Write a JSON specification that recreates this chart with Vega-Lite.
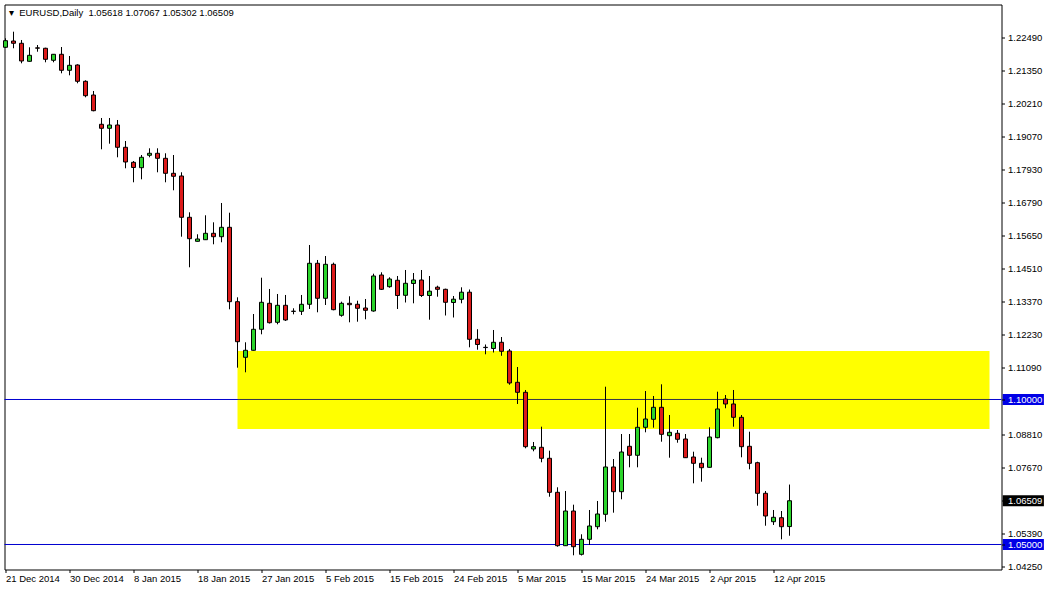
{
  "$schema": "https://vega.github.io/schema/vega-lite/v6.json",
  "width": 997,
  "height": 565,
  "autosize": {"type": "none"},
  "padding": {"left": 4.5, "top": 4.5, "right": 44.5, "bottom": 19.5},
  "background": "white",
  "config": {"view": {"stroke": "black", "strokeWidth": 1}, "font": "Liberation Sans"},
  "resolve": {"axis": {"x": "independent", "y": "independent"}},
  "datasets": {
    "zone": [{"x1": 29, "x2": 123, "top": 1.1167, "bottom": 1.0898}],
    "levels": [{"p": 1.1}, {"p": 1.05}],
    "tags": [{"p": 1.1}, {"p": 1.05}, {"p": 1.06509}],
    "header": [{"text": "▾\u00a0\u00a0EURUSD,Daily\u00a0\u00a01.05618 1.07067 1.05302 1.06509"}],
    "candles": [
      {"i":0,"o":1.22145,"h":1.22455,"l":1.22121,"c":1.22373},
      {"i":1,"o":1.22362,"h":1.22683,"l":1.22111,"c":1.22283},
      {"i":2,"o":1.22283,"h":1.22397,"l":1.21593,"c":1.21673},
      {"i":3,"o":1.21662,"h":1.22145,"l":1.21650,"c":1.21869},
      {"i":4,"o":1.22125,"h":1.22224,"l":1.21993,"c":1.22115},
      {"i":5,"o":1.22111,"h":1.22130,"l":1.21628,"c":1.21731},
      {"i":6,"o":1.21697,"h":1.21914,"l":1.21628,"c":1.21904},
      {"i":7,"o":1.21904,"h":1.22155,"l":1.21248,"c":1.21352},
      {"i":8,"o":1.21352,"h":1.21845,"l":1.21179,"c":1.21524},
      {"i":9,"o":1.21535,"h":1.21559,"l":1.20904,"c":1.20973},
      {"i":10,"o":1.20973,"h":1.21007,"l":1.20421,"c":1.20476},
      {"i":11,"o":1.20500,"h":1.20638,"l":1.19938,"c":1.19959},
      {"i":12,"o":1.19490,"h":1.19707,"l":1.18628,"c":1.19352},
      {"i":13,"o":1.19352,"h":1.19707,"l":1.18821,"c":1.19466},
      {"i":14,"o":1.19466,"h":1.19638,"l":1.18352,"c":1.18697},
      {"i":15,"o":1.18697,"h":1.18914,"l":1.17973,"c":1.18190},
      {"i":16,"o":1.18179,"h":1.18224,"l":1.17490,"c":1.18000},
      {"i":17,"o":1.17993,"h":1.18431,"l":1.17593,"c":1.18352},
      {"i":18,"o":1.18421,"h":1.18662,"l":1.18352,"c":1.18490},
      {"i":19,"o":1.18490,"h":1.18662,"l":1.17835,"c":1.18317},
      {"i":20,"o":1.18317,"h":1.18490,"l":1.17490,"c":1.17800},
      {"i":21,"o":1.17800,"h":1.18431,"l":1.17214,"c":1.17697},
      {"i":22,"o":1.17707,"h":1.17835,"l":1.15614,"c":1.16283},
      {"i":23,"o":1.16283,"h":1.16455,"l":1.14559,"c":1.15545},
      {"i":24,"o":1.15455,"h":1.15697,"l":1.15448,"c":1.15535},
      {"i":25,"o":1.15510,"h":1.16352,"l":1.15500,"c":1.15731},
      {"i":26,"o":1.15731,"h":1.16110,"l":1.15352,"c":1.15614},
      {"i":27,"o":1.15614,"h":1.16776,"l":1.15421,"c":1.15938},
      {"i":28,"o":1.15938,"h":1.16441,"l":1.13110,"c":1.13373},
      {"i":29,"o":1.13373,"h":1.13524,"l":1.11097,"c":1.11993},
      {"i":30,"o":1.11455,"h":1.11973,"l":1.10938,"c":1.11697},
      {"i":31,"o":1.11697,"h":1.12948,"l":1.11690,"c":1.12421},
      {"i":32,"o":1.12421,"h":1.14200,"l":1.12248,"c":1.13352},
      {"i":33,"o":1.13317,"h":1.13811,"l":1.12620,"c":1.12648},
      {"i":34,"o":1.12662,"h":1.13638,"l":1.12593,"c":1.13248},
      {"i":35,"o":1.13248,"h":1.13604,"l":1.12707,"c":1.12742},
      {"i":36,"o":1.13045,"h":1.13145,"l":1.12938,"c":1.13038},
      {"i":37,"o":1.13041,"h":1.13604,"l":1.12914,"c":1.13283},
      {"i":38,"o":1.13283,"h":1.15328,"l":1.13121,"c":1.14697},
      {"i":39,"o":1.14697,"h":1.14811,"l":1.13007,"c":1.13490},
      {"i":40,"o":1.13490,"h":1.14948,"l":1.13259,"c":1.14662},
      {"i":41,"o":1.14662,"h":1.14720,"l":1.13076,"c":1.13097},
      {"i":42,"o":1.12904,"h":1.13373,"l":1.12855,"c":1.13317},
      {"i":43,"o":1.13317,"h":1.13559,"l":1.12662,"c":1.13269},
      {"i":44,"o":1.13283,"h":1.13407,"l":1.12683,"c":1.13145},
      {"i":45,"o":1.13155,"h":1.13466,"l":1.12766,"c":1.13076},
      {"i":46,"o":1.13052,"h":1.14338,"l":1.13028,"c":1.14259},
      {"i":47,"o":1.14293,"h":1.14386,"l":1.13776,"c":1.13800},
      {"i":48,"o":1.13890,"h":1.14214,"l":1.13855,"c":1.14155},
      {"i":49,"o":1.14111,"h":1.14259,"l":1.13121,"c":1.13586},
      {"i":50,"o":1.13593,"h":1.14466,"l":1.13345,"c":1.14007},
      {"i":51,"o":1.14000,"h":1.14362,"l":1.13317,"c":1.14121},
      {"i":52,"o":1.14121,"h":1.14466,"l":1.13535,"c":1.13586},
      {"i":53,"o":1.13586,"h":1.14259,"l":1.12752,"c":1.13735},
      {"i":54,"o":1.13873,"h":1.13924,"l":1.13545,"c":1.13800},
      {"i":55,"o":1.13800,"h":1.13821,"l":1.12897,"c":1.13352},
      {"i":56,"o":1.13345,"h":1.13569,"l":1.12828,"c":1.13459},
      {"i":57,"o":1.13455,"h":1.13869,"l":1.13317,"c":1.13700},
      {"i":58,"o":1.13700,"h":1.13793,"l":1.11800,"c":1.12076},
      {"i":59,"o":1.12076,"h":1.12424,"l":1.11717,"c":1.11897},
      {"i":60,"o":1.11800,"h":1.11897,"l":1.11559,"c":1.11790},
      {"i":61,"o":1.11759,"h":1.12397,"l":1.11621,"c":1.11973},
      {"i":62,"o":1.11973,"h":1.12155,"l":1.11507,"c":1.11662},
      {"i":63,"o":1.11673,"h":1.11742,"l":1.10510,"c":1.10569},
      {"i":64,"o":1.10593,"h":1.11121,"l":1.09845,"c":1.10248},
      {"i":65,"o":1.10248,"h":1.10328,"l":1.08317,"c":1.08373},
      {"i":66,"o":1.08293,"h":1.08535,"l":1.08214,"c":1.08373},
      {"i":67,"o":1.08352,"h":1.09062,"l":1.07835,"c":1.07973},
      {"i":68,"o":1.07973,"h":1.08235,"l":1.06648,"c":1.06800},
      {"i":69,"o":1.06800,"h":1.06973,"l":1.04924,"c":1.04959},
      {"i":70,"o":1.04959,"h":1.06845,"l":1.04948,"c":1.06155},
      {"i":71,"o":1.06155,"h":1.06373,"l":1.04628,"c":1.04924},
      {"i":72,"o":1.04662,"h":1.05352,"l":1.04621,"c":1.05179},
      {"i":73,"o":1.05179,"h":1.06190,"l":1.04983,"c":1.05638},
      {"i":74,"o":1.05614,"h":1.06500,"l":1.05524,"c":1.06052},
      {"i":75,"o":1.06041,"h":1.10441,"l":1.05786,"c":1.07673},
      {"i":76,"o":1.07673,"h":1.07948,"l":1.06097,"c":1.06821},
      {"i":77,"o":1.06821,"h":1.08810,"l":1.06559,"c":1.08190},
      {"i":78,"o":1.08386,"h":1.08810,"l":1.07662,"c":1.08076},
      {"i":79,"o":1.08076,"h":1.09717,"l":1.07662,"c":1.09041},
      {"i":80,"o":1.09041,"h":1.10293,"l":1.08869,"c":1.09328},
      {"i":81,"o":1.09317,"h":1.10121,"l":1.09028,"c":1.09731},
      {"i":82,"o":1.09731,"h":1.10524,"l":1.08545,"c":1.08800},
      {"i":83,"o":1.08752,"h":1.09466,"l":1.07993,"c":1.08869},
      {"i":84,"o":1.08835,"h":1.08948,"l":1.08510,"c":1.08628},
      {"i":85,"o":1.08638,"h":1.08810,"l":1.07983,"c":1.07993},
      {"i":86,"o":1.08017,"h":1.08200,"l":1.07110,"c":1.07800},
      {"i":87,"o":1.07800,"h":1.07993,"l":1.07166,"c":1.07648},
      {"i":88,"o":1.07662,"h":1.09041,"l":1.07655,"c":1.08707},
      {"i":89,"o":1.08683,"h":1.10269,"l":1.08662,"c":1.09673},
      {"i":90,"o":1.10017,"h":1.10155,"l":1.09697,"c":1.09845},
      {"i":91,"o":1.09845,"h":1.10328,"l":1.09062,"c":1.09386},
      {"i":92,"o":1.09386,"h":1.09466,"l":1.08007,"c":1.08373},
      {"i":93,"o":1.08386,"h":1.08890,"l":1.07593,"c":1.07800},
      {"i":94,"o":1.07821,"h":1.07855,"l":1.06338,"c":1.06766},
      {"i":95,"o":1.06766,"h":1.06845,"l":1.05648,"c":1.05983},
      {"i":96,"o":1.05786,"h":1.06190,"l":1.05673,"c":1.05938},
      {"i":97,"o":1.05924,"h":1.06155,"l":1.05179,"c":1.05614},
      {"i":98,"o":1.05618,"h":1.07067,"l":1.05302,"c":1.06509}
    ]
  },
  "layer": [
    {
      "data": {"name": "zone"},
      "mark": {"type": "rect", "color": "#ffff00"},
      "encoding": {
        "x": {"field": "x1", "type": "quantitative", "scale": {"domain": [-0.125, 124.5], "nice": false, "zero": false, "padding": 0}, "axis": null},
        "x2": {"field": "x2"},
        "y": {"field": "top", "type": "quantitative", "scale": {"domain": [1.041379, 1.236207], "nice": false, "zero": false, "padding": 0}, "axis": null},
        "y2": {"field": "bottom"}
      }
    },
    {
      "data": {"name": "levels"},
      "mark": {"type": "rule", "color": "#0000d0", "strokeWidth": 1},
      "encoding": {
        "y": {"field": "p", "type": "quantitative", "scale": {"domain": [1.041379, 1.236207], "nice": false, "zero": false, "padding": 0}, "axis": null}
      }
    },
    {
      "data": {"name": "zone"},
      "mark": {"type": "rule", "color": "#3c3c46", "strokeWidth": 1},
      "encoding": {
        "x": {"field": "x1", "type": "quantitative", "scale": {"domain": [-0.125, 124.5], "nice": false, "zero": false, "padding": 0}, "axis": null},
        "x2": {"field": "x2"},
        "y": {"datum": 1.1, "type": "quantitative", "scale": {"domain": [1.041379, 1.236207], "nice": false, "zero": false, "padding": 0}, "axis": null}
      }
    },
    {
      "data": {"name": "candles"},
      "mark": {"type": "rule", "color": "black", "strokeWidth": 1},
      "encoding": {
        "x": {"field": "i", "type": "quantitative", "scale": {"domain": [-0.125, 124.5], "nice": false, "zero": false, "padding": 0}, "axis": null},
        "y": {"field": "l", "type": "quantitative", "scale": {"domain": [1.041379, 1.236207], "nice": false, "zero": false, "padding": 0}, "axis": null},
        "y2": {"field": "h"}
      }
    },
    {
      "data": {"name": "candles"},
      "mark": {"type": "bar", "width": 4, "stroke": "black", "strokeWidth": 1},
      "encoding": {
        "x": {"field": "i", "type": "quantitative", "scale": {"domain": [-0.125, 124.5], "nice": false, "zero": false, "padding": 0},
          "axis": {"orient": "bottom", "values": [0, 8, 16, 24, 32, 40, 48, 56, 64, 72, 80, 88, 96],
            "labelExpr": "['21 Dec 2014','30 Dec 2014','8 Jan 2015','18 Jan 2015','27 Jan 2015','5 Feb 2015','15 Feb 2015','24 Feb 2015','5 Mar 2015','15 Mar 2015','24 Mar 2015','2 Apr 2015','12 Apr 2015'][round(datum.value/8)]",
            "title": null, "domain": false, "grid": false, "ticks": true, "tickSize": 3, "tickColor": "black", "tickWidth": 1,
            "labelPadding": 1, "labelAlign": "left", "labelBaseline": "top", "labelFont": "Liberation Sans", "labelFontSize": 9.5,
            "labelColor": "black", "labelOverlap": false, "labelFlush": false, "labelBound": false}},
        "y": {"field": "o", "type": "quantitative", "scale": {"domain": [1.041379, 1.236207], "nice": false, "zero": false, "padding": 0},
          "axis": {"orient": "right", "values": [1.2249, 1.2135, 1.2021, 1.1907, 1.1793, 1.1679, 1.1565, 1.1451, 1.1337, 1.1223, 1.1109, 1.1, 1.0881, 1.0767, 1.06509, 1.0539, 1.05, 1.0425],
            "format": ".5f", "title": null, "domain": false, "grid": false, "ticks": true, "tickSize": 3, "tickColor": "black", "tickWidth": 1,
            "labelPadding": 3, "labelAlign": "left", "labelBaseline": "middle", "labelFont": "Liberation Sans", "labelFontSize": 9.5,
            "labelColor": {"condition": {"test": "datum.value == 1.1 || datum.value == 1.05 || datum.value == 1.06509", "value": "white"}, "value": "black"},
            "labelOverlap": false, "labelFlush": false, "labelBound": false, "zindex": 1}},
        "y2": {"field": "c"},
        "fill": {"condition": {"test": "datum.c >= datum.o", "value": "#2bd42b"}, "value": "#dc1a1a"}
      }
    },
    {
      "data": {"name": "tags"},
      "mark": {"type": "bar", "height": 11},
      "encoding": {
        "y": {"field": "p", "type": "quantitative", "scale": {"domain": [1.041379, 1.236207], "nice": false, "zero": false, "padding": 0}, "axis": null},
        "x": {"datum": 124.65, "type": "quantitative", "scale": {"domain": [-0.125, 124.5], "nice": false, "zero": false, "padding": 0}, "axis": null},
        "x2": {"datum": 129.8},
        "fill": {"condition": {"test": "datum.p == 1.06509", "value": "black"}, "value": "#0000e6"}
      }
    },
    {
      "data": {"name": "header"},
      "mark": {"type": "text", "align": "left", "baseline": "middle", "dx": 4.5, "dy": 8.5, "font": "Liberation Sans", "fontSize": 9.5, "color": "black"},
      "encoding": {
        "text": {"field": "text"},
        "x": {"datum": -0.125, "type": "quantitative", "scale": {"domain": [-0.125, 124.5], "nice": false, "zero": false, "padding": 0}, "axis": null},
        "y": {"datum": 1.236207, "type": "quantitative", "scale": {"domain": [1.041379, 1.236207], "nice": false, "zero": false, "padding": 0}, "axis": null}
      }
    }
  ]
}
